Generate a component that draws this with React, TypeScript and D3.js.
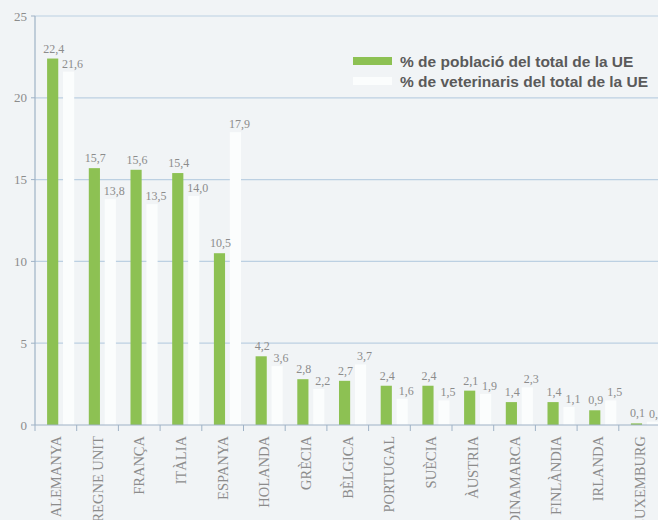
import React from 'react';
import * as d3 from 'd3';

const COUNTRIES = [
  'ALEMANYA', 'REGNE UNIT', 'FRANÇA', 'ITÀLIA', 'ESPANYA', 'HOLANDA', 'GRÈCIA', 'BÈLGICA',
  'PORTUGAL', 'SUÈCIA', 'ÀUSTRIA', 'DINAMARCA', 'FINLÀNDIA', 'IRLANDA', 'LUXEMBURG',
];
const POBLACIO = [22.4, 15.7, 15.6, 15.4, 10.5, 4.2, 2.8, 2.7, 2.4, 2.4, 2.1, 1.4, 1.4, 0.9, 0.1];
const VETERINARIS = [21.6, 13.8, 13.5, 14.0, 17.9, 3.6, 2.2, 3.7, 1.6, 1.5, 1.9, 2.3, 1.1, 1.5, 0.2];
const Y_TICKS = [0, 5, 10, 15, 20, 25];
const SERIES = ['pob', 'vet'] as const;
const LEGEND = ['% de població del total de la UE', '% de veterinaris del total de la UE'];

const GREEN = '#8dc153';
const WHITE_BAR = '#fbfdfd';
const BG = '#f1f4f6';
const GRID = '#bcd0e2';
const AXIS = '#9fb2c6';
const TXT = '#8c8c8c';
const SERIF = "'Liberation Serif', 'Times New Roman', serif";

const W = 658;
const H = 520;
const left = 35;
const top = 16;
const bottom = 425;

const fmt = (v: number) => v.toFixed(1).replace('.', ',');

export default function App() {
  const x0 = d3.scaleBand().domain(COUNTRIES).range([left, left + 15 * 41.7]).padding(0);
  const bw = x0.bandwidth();
  const x1 = d3
    .scaleBand()
    .domain([...SERIES])
    .range([bw * 0.29, bw * 0.94])
    .paddingInner(0.3);
  const y = d3.scaleLinear().domain([0, 25]).range([bottom, top]);

  return (
    <svg width={W} height={H} style={{ position: 'fixed', left: 0, top: 0, background: BG }}>
      <rect x={0} y={0} width={W} height={H} fill={BG} />

      {/* grid */}
      {Y_TICKS.filter((t) => t > 0).map((t) => (
        <line key={t} x1={left} x2={W} y1={y(t)} y2={y(t)} stroke={GRID} strokeWidth={1.2} />
      ))}

      {/* bars */}
      {COUNTRIES.map((c, i) => {
        const xb = x0(c) ?? 0;
        const xp = xb + (x1('pob') ?? 0);
        const xv = xb + (x1('vet') ?? 0);
        return (
          <g key={c}>
            <rect x={xp} y={y(POBLACIO[i])} width={x1.bandwidth()} height={y(0) - y(POBLACIO[i])} fill={GREEN} />
            <rect x={xv} y={y(VETERINARIS[i])} width={x1.bandwidth()} height={y(0) - y(VETERINARIS[i])} fill={WHITE_BAR} />
            <text
              x={xp + x1.bandwidth() / 2 + 1}
              y={y(POBLACIO[i]) - 6}
              textAnchor="middle"
              fontFamily={SERIF}
              fontSize={12}
              fill={TXT}
            >
              {fmt(POBLACIO[i])}
            </text>
            <text
              x={xv + x1.bandwidth() / 2 + 4}
              y={y(VETERINARIS[i]) - 4}
              textAnchor="middle"
              fontFamily={SERIF}
              fontSize={12}
              fill={TXT}
            >
              {fmt(VETERINARIS[i])}
            </text>
          </g>
        );
      })}

      {/* axes */}
      <line x1={left} x2={left} y1={top} y2={bottom} stroke={AXIS} strokeWidth={1.2} />
      <line x1={left} x2={W} y1={bottom} y2={bottom} stroke={AXIS} strokeWidth={1.2} />
      {Y_TICKS.map((t) => (
        <g key={t}>
          <line x1={left - 4} x2={left} y1={y(t)} y2={y(t)} stroke={AXIS} />
          <text x={left - 8} y={y(t) + 4.5} textAnchor="end" fontFamily={SERIF} fontSize={13} fill={TXT}>
            {t}
          </text>
        </g>
      ))}
      {COUNTRIES.map((c) => (
        <line key={c} x1={x0(c)} x2={x0(c)} y1={bottom} y2={bottom + 6} stroke={AXIS} />
      ))}
      {COUNTRIES.map((c) => {
        const cx = (x0(c) ?? 0) + bw / 2;
        return (
          <text
            key={c}
            transform={`translate(${cx + 5},${bottom + 11}) rotate(-90)`}
            textAnchor="end"
            fontFamily={SERIF}
            fontSize={14.5}
            fill={TXT}
          >
            {c}
          </text>
        );
      })}

      {/* legend */}
      <g transform="translate(353,57)">
        {LEGEND.map((l, i) => (
          <g key={l} transform={`translate(0,${i * 20})`}>
            <rect x={0} y={0} width={39} height={8} fill={i === 0 ? GREEN : WHITE_BAR} />
            <text
              x={47}
              y={10}
              fontFamily="'Liberation Sans', Arial, sans-serif"
              fontWeight="bold"
              fontSize={15.5}
              fill="#5a5a5a"
            >
              {l}
            </text>
          </g>
        ))}
      </g>
    </svg>
  );
}
